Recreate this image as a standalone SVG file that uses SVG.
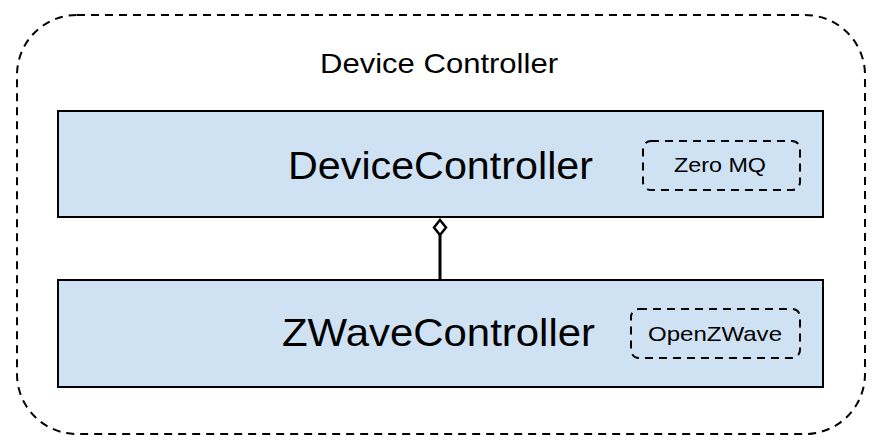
<svg xmlns="http://www.w3.org/2000/svg" width="881" height="447" viewBox="0 0 881 447">
<style>
text{font-family:"Liberation Sans",Arial,sans-serif;fill:#000;text-anchor:middle}
.box{fill:#cfe2f3;stroke:#000;stroke-width:2}
.dash{fill:none;stroke:#000;stroke-width:2;stroke-dasharray:8,6}
</style>
<g id="outer">
<rect class="dash" x="17" y="15" width="848" height="419" rx="60" ry="60"/>
<text x="439" y="73" font-size="28" textLength="238" lengthAdjust="spacingAndGlyphs">Device Controller</text>
</g>
<g id="device-controller">
<rect class="box" x="58" y="111" width="765" height="106"/>
<text x="440.5" y="179" font-size="39" textLength="305" lengthAdjust="spacingAndGlyphs">DeviceController</text>
<g id="zeromq">
<rect class="dash" x="643" y="141" width="157" height="49" rx="8" ry="8"/>
<text x="720" y="172" font-size="21" textLength="92" lengthAdjust="spacingAndGlyphs">Zero MQ</text>
</g>
</g>
<g id="zwave-controller">
<rect class="box" x="58" y="280" width="765" height="107"/>
<text x="438.5" y="346" font-size="39" textLength="313" lengthAdjust="spacingAndGlyphs">ZWaveController</text>
<g id="openzwave">
<rect class="dash" x="631" y="309" width="169" height="49" rx="8" ry="8"/>
<text x="715" y="341" font-size="21" textLength="134" lengthAdjust="spacingAndGlyphs">OpenZWave</text>
</g>
</g>
<g id="connectors">
<path d="M440 280 V235" fill="none" stroke="#000" stroke-width="3"/>
<path d="M440 220 L446 227.5 L440 235 L434 227.5 Z" fill="#fff" stroke="#000" stroke-width="2.5"/>
</g>
</svg>
